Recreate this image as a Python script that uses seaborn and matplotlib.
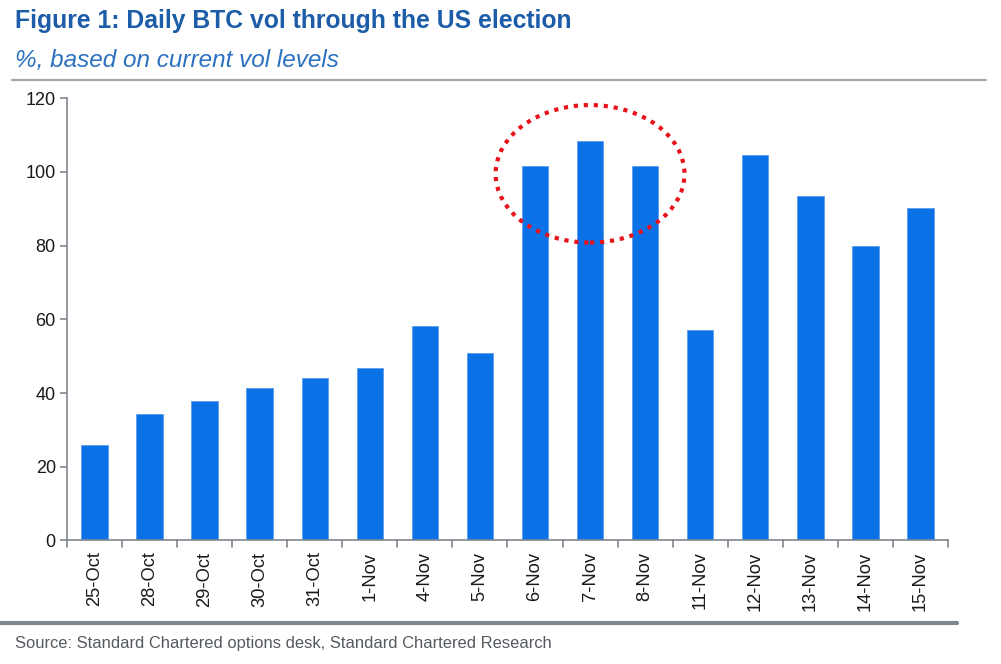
import matplotlib
matplotlib.use("Agg")
import matplotlib.pyplot as plt
from matplotlib.patches import Ellipse
from matplotlib.lines import Line2D
import seaborn as sns
import pandas as pd

# Data
dates = ["25-Oct", "28-Oct", "29-Oct", "30-Oct", "31-Oct", "1-Nov", "4-Nov", "5-Nov",
         "6-Nov", "7-Nov", "8-Nov", "11-Nov", "12-Nov", "13-Nov", "14-Nov", "15-Nov"]
vol = [25.9, 34.2, 37.8, 41.3, 44.1, 46.8, 58.2, 50.8,
       101.7, 108.5, 101.7, 57.1, 104.5, 93.5, 80.0, 90.3]
y_ticks = [0, 20, 40, 60, 80, 100, 120]

title = "Figure 1: Daily BTC vol through the US election"
subtitle = "%, based on current vol levels"
source = "Source: Standard Chartered options desk, Standard Chartered Research"

sns.set_style("white")
plt.rcParams['font.family'] = ['Liberation Sans', 'DejaVu Sans']

df = pd.DataFrame({"date": dates, "vol": vol})

fig = plt.figure(figsize=(10.01, 6.64), dpi=100)
ax = fig.add_axes([0.0669, 0.186, 0.8801, 0.666])

sns.barplot(data=df, x="date", y="vol", color="#0A72E6", saturation=1,
            width=0.48, ax=ax, edgecolor="#5A9CEB", linewidth=0.6)

ax.set_xlim(-0.5, len(dates) - 0.5)
ax.set_ylim(0, 120)
ax.set_yticks(y_ticks)
ax.set_xlabel("")
ax.set_ylabel("")

# ticks on x axis sit between the bars
ax.set_xticks([i for i in range(len(dates))])
ax.set_xticklabels(dates, rotation=90, fontsize=13.2, color="#1a1a1a")
ax.tick_params(axis="x", length=0, pad=8)
for i in range(len(dates) + 1):
    ax.plot([i - 0.5, i - 0.5], [0, -1.7], color="#7F868E", lw=1.2, clip_on=False)
ax.tick_params(axis="y", direction="out", length=5, width=1.2, color="#7F868E",
               labelsize=13, labelcolor="#1a1a1a", pad=3, left=True)

for side in ["top", "right"]:
    ax.spines[side].set_visible(False)
for side in ["left", "bottom"]:
    ax.spines[side].set_color("#7F868E")
    ax.spines[side].set_linewidth(1.2)

# red dotted ellipse around the election days
ell = Ellipse((9, 99.5), width=3.43, height=37.3, fill=False, edgecolor="#E8131A",
              linestyle=(0, (1, 1.4)), linewidth=3, clip_on=False)
ax.add_patch(ell)

# header, rules and source
fig.text(0.015, 0.968, title, fontsize=17.8, fontweight="bold", color="#1C5CA8", va="center")
fig.text(0.015, 0.909, subtitle, fontsize=17.5, fontstyle="italic", color="#2C72C0", va="center")
fig.add_artist(Line2D([0.012, 0.985], [0.879, 0.879], color="#A4A8AD", lw=1.6))
fig.add_artist(Line2D([0.0, 0.956], [0.062, 0.062], color="#7F868E", lw=3))
fig.text(0.015, 0.031, source, fontsize=11.9, color="#555A60", va="center")

fig.savefig("out.png", dpi=100)
